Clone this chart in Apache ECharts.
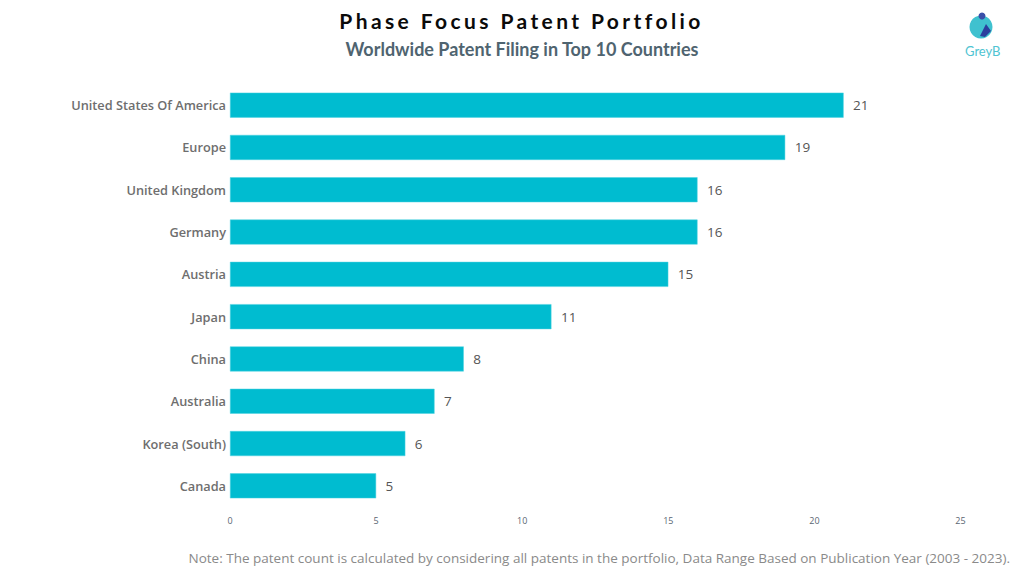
<!DOCTYPE html>
<html>
<head>
<meta charset="utf-8">
<style>
html,body{margin:0;padding:0;background:#fff;}
#main{width:1024px;height:574px;}
</style>
<script src="https://cdn.jsdelivr.net/npm/echarts@6/dist/echarts.min.js"></script>
</head>
<body>
<div id="main"></div>
<script>
var countries = ['United States Of America','Europe','United Kingdom','Germany','Austria','Japan','China','Australia','Korea (South)','Canada'];
var patents = [21,19,16,16,15,11,8,7,6,5];
var titleText = 'Phase Focus Patent Portfolio';
var subText = 'Worldwide Patent Filing in Top 10 Countries';
var noteText = 'Note: The patent count is calculated by considering all patents in the portfolio, Data Range Based on Publication Year (2003 - 2023).';

var chart = echarts.init(document.getElementById('main'), null, {renderer:'svg'});
var option = {
	backgroundColor:'#fff',
	animation:false,
	title:[
		{text:titleText,left:516.5,top:5,textAlign:'center',textStyle:{fontFamily:'Lato',fontSize:21,fontWeight:'bold',color:'#0b0b0b'}},
		{text:subText,left:517,top:35,textAlign:'center',textStyle:{fontFamily:'Lato',fontSize:18,fontWeight:'bold',color:'#4f6470'}}
	],
	grid:{left:230,right:63.5,top:84,bottom:67},
	xAxis:{
		type:'value',min:0,max:25,interval:5,
		axisLine:{show:false},axisTick:{show:false},splitLine:{show:false},
		axisLabel:{fontFamily:'Open Sans',fontSize:9,color:'#5a6672',margin:9}
	},
	yAxis:{
		type:'category',inverse:true,data:countries,
		axisLine:{show:false},axisTick:{show:false},
		axisLabel:{fontFamily:'Open Sans',fontSize:12.75,fontWeight:600,color:'#6e6e6e',margin:4}
	},
	series:[{
		type:'bar',data:patents,barWidth:25,
		itemStyle:{color:'#00bcd0',borderColor:'#4fd3e0',borderWidth:0.5},
		label:{show:true,position:'right',distance:9.5,fontFamily:'Open Sans',fontSize:13.5,color:'#555'}
	}],
	graphic:[
		{type:'text',right:14,top:551,style:{text:noteText,fontFamily:'Open Sans',fontSize:13.5,fill:'#8a8a8a'}},
		// GreyB logo
		{type:'circle',shape:{cx:981,cy:27,r:11.5},style:{fill:'#3fc1cf'}},
		{type:'circle',shape:{cx:982,cy:16,r:3.5},style:{fill:'#3a4fa8'}},
		{type:'polygon',shape:{points:[[986,24],[991,31],[985,37],[980,36]]},style:{fill:'#2b3f9e'}},
		{type:'text',left:965,top:44,style:{text:'GreyB',fontFamily:'Lato',fontSize:13,fontWeight:'normal',fill:'#4fc4d2'}}
	]
};
chart.setOption(option);

// title is letter spaced in the original, canvas text can't do this so patch the svg
var nodes = document.querySelectorAll('#main svg text');
for(var i=0;i<nodes.length;i++){
	if(nodes[i].textContent==titleText){
		nodes[i].style.letterSpacing='3.4px';
	}
}
</script>
</body>
</html>
